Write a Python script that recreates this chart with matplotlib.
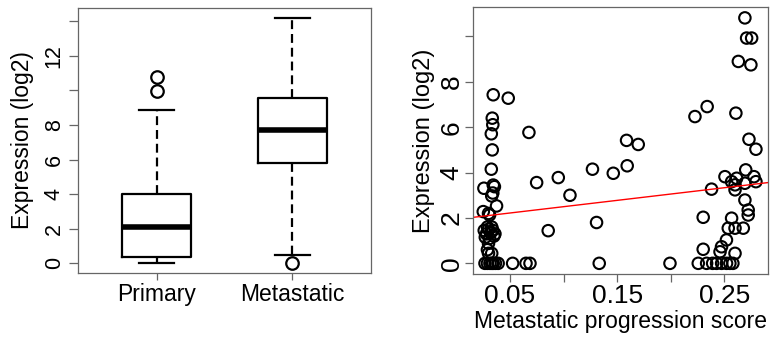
import matplotlib
matplotlib.use("Agg")
import matplotlib.pyplot as plt
import numpy as np

plt.rcParams['font.family'] = ['Liberation Sans', 'DejaVu Sans']

# ---- Left panel: boxplot summary values ----
groups = ["Primary", "Metastatic"]
whisk_lo = [0.0, 0.46]
q1 = [0.38, 5.78]
medians = [2.08, 7.70]
q3 = [4.00, 9.53]
whisk_hi = [8.86, 14.16]
outliers = [[9.97, 10.78], [0.0]]

# ---- Right panel: scatter data ----
score = [
    0.0344, 0.0484, 0.0335, 0.0340, 0.0326, 0.0677, 0.0335, 0.0326, 0.0257, 0.0344,
    0.0355, 0.0340, 0.0330, 0.0375, 0.0251, 0.0310, 0.0300,
    0.0260, 0.0280, 0.0300, 0.0320, 0.0340, 0.0360, 0.0270, 0.0310, 0.0350, 0.0290,
    0.0330, 0.0300, 0.0290, 0.0300, 0.0330,
    0.0267, 0.0290, 0.0313, 0.0330, 0.0344, 0.0365, 0.0390, 0.0525, 0.0650, 0.0687,
    0.0749, 0.0857, 0.0951, 0.1060, 0.1270, 0.1308, 0.1333, 0.1464, 0.1588, 0.1594,
    0.1697, 0.1993,
    0.2226, 0.2340, 0.2608, 0.2692, 0.2708, 0.2755, 0.2631, 0.2748, 0.2730, 0.2795,
    0.2700, 0.2506, 0.2615, 0.2777, 0.2795, 0.2568, 0.2692, 0.2600, 0.2381, 0.2600,
    0.2692, 0.2723, 0.2723, 0.2303, 0.2568, 0.2537, 0.2600, 0.2677, 0.2520, 0.2474,
    0.2460, 0.2303, 0.2600,
    0.2257, 0.2335, 0.2391, 0.2428, 0.2475, 0.2521, 0.2552, 0.2580,
]
expression = [
    7.43, 7.28, 6.40, 6.11, 5.71, 5.77, 5.00, 4.15, 3.31, 3.45,
    3.38, 3.10, 2.97, 2.53, 2.28, 2.13, 2.20,
    1.45, 1.30, 1.50, 1.35, 1.45, 1.30, 1.15, 1.10, 1.20, 1.60,
    1.60, 0.88, 0.60, 0.44, 0.44,
    0.0, 0.0, 0.0, 0.0, 0.0, 0.0, 0.0, 0.0, 0.0, 0.0,
    3.56, 1.44, 3.78, 3.00, 4.15, 1.80, 0.0, 3.97, 5.42, 4.30,
    5.24, 0.0,
    6.47, 6.91, 6.62, 10.82, 9.93, 9.93, 8.90, 8.75, 5.47, 5.03,
    4.12, 3.82, 3.75, 3.82, 3.60, 3.60, 3.53, 3.46, 3.27, 3.24,
    2.79, 2.35, 2.13, 2.03, 1.99, 1.55, 1.55, 1.55, 1.03, 0.73,
    0.51, 0.62, 0.44,
    0.0, 0.0, 0.0, 0.0, 0.0, 0.0, 0.0, 0.0,
]
fit_intercept = 1.94
fit_slope = 5.57

left_yticks = [0, 2, 4, 6, 8, 10, 12, 14]
left_yticklabels = ["0", "2", "4", "6", "8", "", "12", ""]
right_yticks = [0, 2, 4, 6, 8, 10]
right_yticklabels = ["0", "2", "4", "6", "8", ""]
right_xticks = [0.05, 0.10, 0.15, 0.20, 0.25]
right_xticklabels = ["0.05", "", "0.15", "", "0.25"]

fig = plt.figure(figsize=(7.75, 3.41), dpi=100)
spine_col = "#666666"

# Left axes
ax1 = fig.add_axes([0.1006, 0.1994, 0.3781, 0.7771])
stats = []
for i, g in enumerate(groups):
    stats.append(dict(label=g, whislo=whisk_lo[i], q1=q1[i], med=medians[i],
                      q3=q3[i], whishi=whisk_hi[i], fliers=outliers[i]))
ax1.bxp(stats, positions=[1, 2], widths=0.51, capwidths=0.255,
        boxprops=dict(color="black", linewidth=1.6),
        medianprops=dict(color="black", linewidth=4, solid_capstyle="butt"),
        whiskerprops=dict(color="black", linewidth=1.6, linestyle=(0, (4, 2.2))),
        capprops=dict(color="black", linewidth=1.6),
        flierprops=dict(marker="o", markerfacecolor="none", markeredgecolor="black",
                        markersize=9, markeredgewidth=1.6))
ax1.set_xlim(0.42, 2.58)
ax1.set_ylim(-0.56, 14.76)
ax1.set_yticks(left_yticks)
ax1.set_yticklabels(left_yticklabels, rotation=90, va="center")
ax1.tick_params(axis="y", labelsize=15.5, length=6.5, width=0.9, color=spine_col, pad=3)
ax1.tick_params(axis="x", labelsize=16.5, length=5, width=0.9, color=spine_col, pad=2)
ax1.set_ylabel("Expression (log2)", fontsize=16.5, labelpad=7)

# Right axes
ax2 = fig.add_axes([0.6107, 0.1965, 0.3799, 0.783])
ax2.scatter(score, expression, s=68, facecolors="none", edgecolors="black", linewidths=1.5)
ax2.axline((0.0, fit_intercept), slope=fit_slope, color="red", linewidth=1.0)
ax2.set_xlim(0.0158, 0.2905)
ax2.set_ylim(-0.47, 11.3)
ax2.set_xticks(right_xticks)
ax2.set_xticklabels(right_xticklabels)
ax2.set_yticks(right_yticks)
ax2.set_yticklabels(right_yticklabels, rotation=90, va="center")
ax2.tick_params(axis="both", labelsize=19, length=6, width=0.9, color=spine_col, pad=1)
ax2.set_xlabel("Metastatic progression score", fontsize=16.5, labelpad=2)
ax2.set_ylabel("Expression (log2)", fontsize=17, labelpad=3)

for ax in (ax1, ax2):
    for sp in ax.spines.values():
        sp.set_color(spine_col)
        sp.set_linewidth(0.9)

fig.savefig("out.png", dpi=100)
